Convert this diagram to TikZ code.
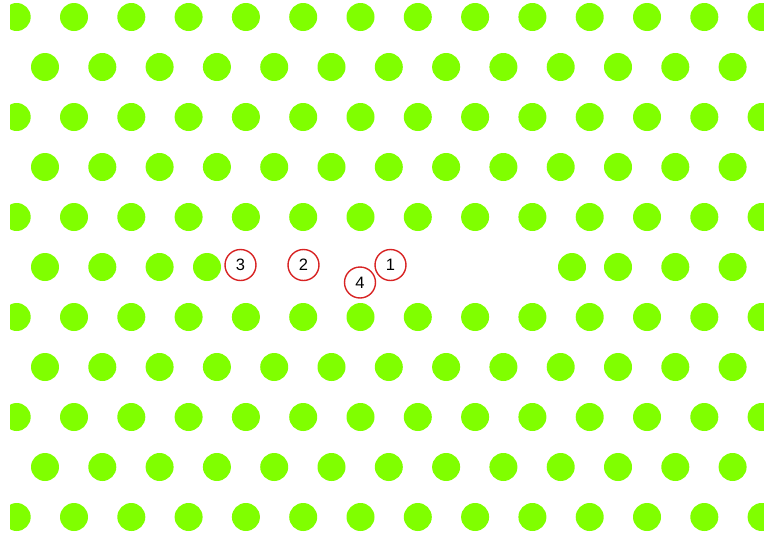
\documentclass[tikz,border=0pt]{standalone}
\usepackage{fontspec}
\setmainfont{Liberation Sans}
\usetikzlibrary{positioning}
\definecolor{atomgreen}{RGB}{128,255,0}
\definecolor{sitered}{RGB}{215,35,35}

\begin{document}
\begin{tikzpicture}[x=1pt, y=-1pt,
  atom/.style={circle, fill=atomgreen, inner sep=0pt, minimum size=28pt},
  site/.style={circle, draw=sitered, line width=1.4pt, inner sep=0pt,
               minimum size=31pt, font=\fontsize{16.5}{16.5}\selectfont}
]
\useasboundingbox (0,0) rectangle (764,536);
\begin{scope}
\clip (10,0) rectangle (764,536);
% full rows
\foreach \r in {0,2,...,10}
  \foreach \k in {0,...,13}
    \node[atom] (a-\r-\k) at (16.7+57.3*\k, 17+50*\r) {};
\foreach \r in {1,3,7,9}
  \foreach \k in {0,...,12}
    \node[atom] (a-\r-\k) at (45+57.3*\k, 17+50*\r) {};
% row with the gap
\foreach \k in {0,1,2,10,11,12}
  \node[atom] (a-5-\k) at (45+57.3*\k, 267) {};
\node[atom] (a-5-3) at (207,267) {};
\node[atom] (a-5-9) at (572,267) {};
\end{scope}
\node[site] (site3) at (240.5,265) {3};
\node[site] (site2) at (303.5,265) {2};
\node[site] (site1) at (390.5,265) {1};
\node[site] (site4) at (360,282.5) {4};
\end{tikzpicture}
\end{document}
